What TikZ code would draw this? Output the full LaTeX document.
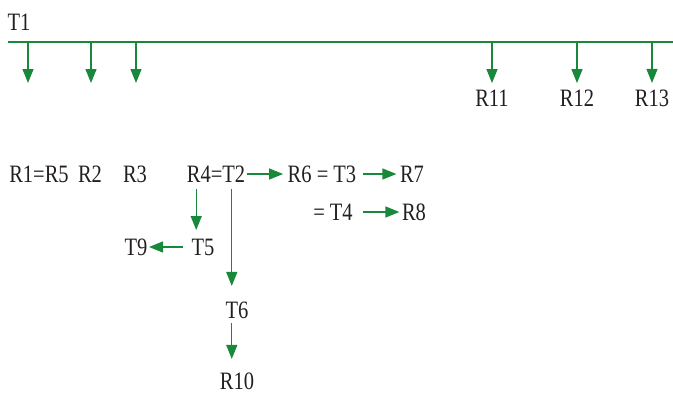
\documentclass[tikz,border=0pt]{standalone}
\usepackage{fontspec}
\setmainfont{Liberation Serif}[FakeStretch=0.82]
\usetikzlibrary{arrows.meta, graphs}
\definecolor{flowgreen}{RGB}{24,137,58}
\definecolor{inkgray}{RGB}{35,31,32}

\begin{document}
\begin{tikzpicture}[
                    x=1pt, y=-1pt,
                    ->,
                    >={Triangle[length=14pt,width=11pt]},
                    flowgreen, line width=1.3pt,
                    every node/.style={inner sep=0pt, text=inkgray,
                                       font=\fontsize{25}{30}\selectfont},
                ]
                \useasboundingbox (0,0) rectangle (673,394);

                % top line
                \node (T1) at (19,22) {T1} ;
                \coordinate (l0) at (8,42) ;
                \coordinate (l1) at (673,42) ;
                \draw[-, line width=1.5pt] (l0) -- (l1) ;

                \coordinate (a1) at (28,42) ;  \coordinate (e1) at (28,83) ;
                \coordinate (a2) at (91,42) ;  \coordinate (e2) at (91,83) ;
                \coordinate (a3) at (136,42) ; \coordinate (e3) at (136,83) ;
                \coordinate (a4) at (492,42) ;
                \coordinate (a5) at (577,42) ;
                \coordinate (a6) at (652,42) ;

                \node (R11) at (492,98) {R11} ;
                \node (R12) at (577,98) {R12} ;
                \node (R13) at (652,98) {R13} ;

                % lower part
                \node (R1R5) at (39,174) {R1=R5} ;
                \node (R2) at (90,174) {R2} ;
                \node (R3) at (135,174) {R3} ;
                \node (R4T2) at (216,174) {R4=T2} ;
                \node (R6T3) at (322,174) {R6 = T3} ;
                \node (R7) at (412,174) {R7} ;
                \node (T4) at (333,212) {= T4} ;
                \node (R8) at (414,212) {R8} ;
                \node (T5) at (203,247) {T5} ;
                \node (T9) at (136,247) {T9} ;
                \node (T6) at (237,310) {T6} ;
                \node (R10) at (237,381) {R10} ;

                \coordinate (r4d) at ([xshift=10pt]R4T2.south west) ;
                \coordinate (t5top) at (r4d |- T5.north) ;
                \coordinate (t2d) at ([xshift=-14pt]R4T2.south east) ;
                \coordinate (t6top) at (t2d |- T6.north) ;
                \coordinate (t6bot) at (t2d |- T6.south) ;
                \coordinate (r10top) at (t2d |- R10.north) ;

                \graph[use existing nodes]{
                    a1 -> e1 ; a2 -> e2 ; a3 -> e3 ;
                    a4 ->[shorten >=6pt] R11 ;
                    a5 ->[shorten >=6pt] R12 ;
                    a6 ->[shorten >=6pt] R13 ;
                    R4T2 ->[shorten <=1pt, shorten >=4pt] R6T3
                         ->[shorten <=6pt, shorten >=3pt] R7 ;
                    T4 ->[shorten <=10pt, shorten >=2pt] R8 ;
                    r4d ->[shorten <=6pt, shorten >=8pt] t5top ;
                    T5 ->[shorten <=8pt, shorten >=1pt] T9 ;
                    t2d ->[shorten <=6pt, shorten >=15pt] t6top ;
                    t6bot ->[shorten <=4pt, shorten >=13pt] r10top ;
                } ;
            \end{tikzpicture}
\end{document}
